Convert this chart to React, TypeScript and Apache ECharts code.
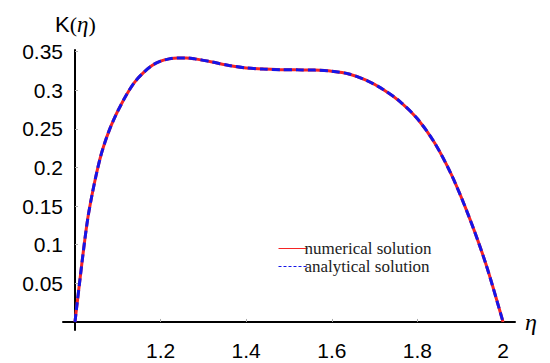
import React, { useEffect, useRef } from "react";
import * as echarts from "echarts";

const etaValues = [1.0, 1.005, 1.01, 1.02, 1.03, 1.04, 1.05, 1.06, 1.07, 1.08, 1.09, 1.1, 1.12, 1.14, 1.16, 1.18, 1.2, 1.22, 1.24, 1.26, 1.28, 1.32, 1.36, 1.4, 1.44, 1.48, 1.52, 1.56, 1.6, 1.64, 1.68, 1.72, 1.76, 1.8, 1.84, 1.88, 1.92, 1.96, 2.0];
const numericalK = [0, 0.024, 0.0475, 0.0935, 0.1345, 0.165, 0.1915, 0.2145, 0.2325, 0.248, 0.2612, 0.273, 0.2938, 0.3108, 0.3228, 0.332, 0.3375, 0.3405, 0.3418, 0.3418, 0.3405, 0.3365, 0.332, 0.3288, 0.3273, 0.3265, 0.3263, 0.326, 0.3245, 0.321, 0.313, 0.301, 0.285, 0.263, 0.232, 0.19, 0.137, 0.075, 0];
const analyticalK = [0, 0.024, 0.0475, 0.0935, 0.1345, 0.165, 0.1915, 0.2145, 0.2325, 0.248, 0.2612, 0.273, 0.2938, 0.3108, 0.3228, 0.332, 0.3375, 0.3405, 0.3418, 0.3418, 0.3405, 0.3365, 0.332, 0.3288, 0.3273, 0.3265, 0.3263, 0.326, 0.3245, 0.321, 0.313, 0.301, 0.285, 0.263, 0.232, 0.19, 0.137, 0.075, 0];
const xTicks = [1.2, 1.4, 1.6, 1.8, 2.0];
const yTicks = [0.05, 0.1, 0.15, 0.2, 0.25, 0.3, 0.35];
const seriesNames = ["numerical solution", "analytical solution"];
const red = "#f52424";
const blue = "#1515e8";

export default function App() {
  const ref = useRef<HTMLDivElement>(null);
  useEffect(() => {
    if (!ref.current) return;
    const chart = echarts.init(ref.current, undefined, { renderer: "svg" });
    const numData = etaValues.map((e, i) => [e, numericalK[i]]);
    const anaData = etaValues.map((e, i) => [e, analyticalK[i]]);
    chart.setOption({
      animation: false,
      backgroundColor: "#ffffff",
      title: {
        left: 55,
        top: 13,
        padding: 0,
        text: "{k|K}{p|(}{e|η}{p|)}",
        textStyle: {
          fontWeight: "normal",
          rich: {
            k: { fontFamily: "Liberation Sans", fontSize: 22, fontWeight: "normal", color: "#000" },
            p: { fontFamily: "Liberation Serif", fontSize: 22, fontWeight: "normal", color: "#000" },
            e: { fontFamily: "Liberation Serif", fontStyle: "italic", fontWeight: "normal", fontSize: 23, color: "#000" },
          },
        },
      },
      legend: {
        orient: "vertical",
        left: 273,
        top: 235,
        itemWidth: 29,
        itemHeight: 12,
        itemGap: 1,
        textStyle: { fontFamily: "Liberation Serif", fontSize: 17, lineHeight: 17, color: "#222", padding: [0, 0, 0, -8] },
        itemStyle: { opacity: 0 },
        data: [
          { name: seriesNames[0], lineStyle: { color: red, width: 1, type: "solid" }, itemStyle: { opacity: 0 } },
          { name: seriesNames[1], lineStyle: { color: blue, width: 1, type: [3, 2] }, itemStyle: { opacity: 0 } },
        ],
      },
      grid: { left: 63, right: 35, top: 50, bottom: 33 },
      xAxis: {
        type: "value",
        min: 0.972,
        max: 2.028,
        name: "η",
        nameLocation: "end",
        nameGap: 10,
        nameTextStyle: {
          fontFamily: "Liberation Serif",
          fontStyle: "italic",
          fontSize: 24,
          color: "#000",
          verticalAlign: "middle",
          padding: [6, 0, 0, 0],
        },
        axisLine: { show: true, onZero: true, lineStyle: { color: "#000", width: 2 } },
        axisTick: { show: true, inside: true, length: 3, customValues: xTicks, lineStyle: { color: "#aaa" } },
        axisLabel: {
          customValues: xTicks,
          margin: 10,
          fontFamily: "Liberation Sans",
          fontSize: 21,
          color: "#000",
          formatter: (v: number) => String(+v.toFixed(1)),
        },
        splitLine: { show: false },
      },
      yAxis: {
        type: "value",
        min: -0.0104,
        max: 0.352,
        offset: -12,
        axisLine: { show: true, onZero: false, lineStyle: { color: "#000", width: 2 } },
        axisTick: { show: true, inside: true, length: 3, customValues: yTicks, lineStyle: { color: "#aaa" } },
        axisLabel: {
          customValues: yTicks,
          margin: 12,
          fontFamily: "Liberation Sans",
          fontSize: 21,
          color: "#000",
          formatter: (v: number) => String(+v.toFixed(2)),
        },
        splitLine: { show: false },
      },
      series: [
        {
          name: seriesNames[0],
          type: "line",
          data: numData,
          symbol: "none",
          smooth: 0.3,
          lineStyle: { color: red, width: 3 },
          itemStyle: { color: red },
          z: 2,
        },
        {
          name: seriesNames[1],
          type: "line",
          data: anaData,
          symbol: "none",
          smooth: 0.3,
          lineStyle: { color: blue, width: 3, type: [8, 4] },
          itemStyle: { color: blue },
          z: 3,
        },
      ],
    });
    return () => chart.dispose();
  }, []);
  return <div ref={ref} style={{ width: 550, height: 363, position: "absolute", left: 0, top: 0 }} />;
}
